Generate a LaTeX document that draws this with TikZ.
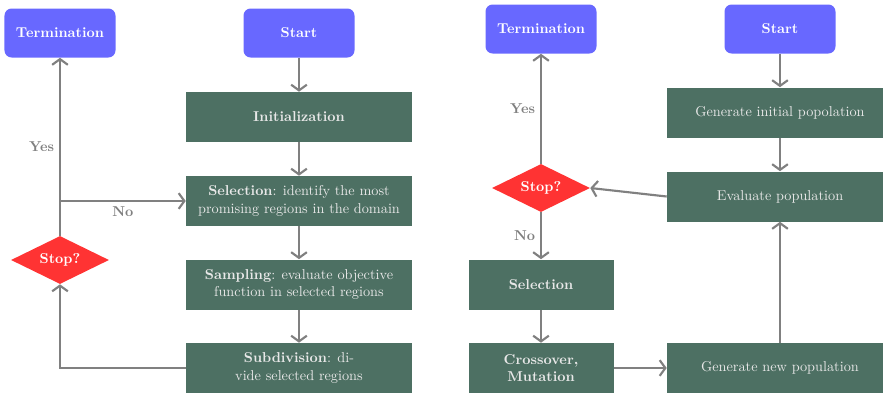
\documentclass[tikz,border=0pt]{standalone}
\usetikzlibrary{shapes.geometric,arrows.meta}
\definecolor{termblue}{HTML}{6868FF}
\definecolor{procgreen}{HTML}{4D7063}
\definecolor{stopred}{HTML}{FF3333}
\definecolor{linegray}{HTML}{808080}
\definecolor{boxtext}{HTML}{E8E8E8}
\tikzset{
  term/.style={draw=none, fill=termblue, rounded corners=5pt, minimum width=77.7pt, minimum height=34.3pt, text=white, font=\bfseries, inner sep=2pt},
  proc/.style={draw=none, fill=procgreen, minimum width=158.2pt, minimum height=35pt, text=boxtext, align=center, inner sep=2pt},
  procs/.style={proc, minimum width=101.5pt},
  decision/.style={diamond, aspect=2, draw=none, fill=stopred, minimum width=68.6pt, minimum height=33.6pt, text=white, font=\bfseries, inner sep=0pt},
  conn/.style={draw=linegray, line width=1.5pt, -{Straight Barb[length=4pt,width=11pt,line width=1.5pt]}},
  lbl/.style={text=linegray, font=\bfseries},
}
\begin{document}
\begin{tikzpicture}[x=0.7pt,y=-0.7pt]
\useasboundingbox (0,0) rectangle (883,394);
% left diagram
\node[term] (termL) at (60,33) {Termination};
\node[term] (startL) at (299,33) {Start};
\node[proc] (init) at (299,117) {\textbf{Initialization}};
\node[proc] (selL) at (299,201) {\textbf{Selection}: identify the most\\promising regions in the domain};
\node[proc] (samp) at (299,284.5) {\textbf{Sampling}: evaluate objective\\function in selected regions};
\node[proc] (subd) at (299,368) {\textbf{Subdivision}: di-\\vide selected regions};
\node[decision] (stopL) at (60,260) {Stop?};
\draw[conn] (startL) -- (init);
\draw[conn] (init) -- (selL);
\draw[conn] (selL) -- (samp);
\draw[conn] (samp) -- (subd);
\draw[conn] (stopL.north) -- node[lbl, left, pos=0.5] {Yes} (termL.south);
\draw[conn] (stopL.north |- selL.west) -- node[lbl, below] {No} (selL.west);
\draw[conn] (subd.west) -| (stopL.south);
% right diagram
\node[term] (termR) at (541,29) {Termination};
\node[term] (startR) at (780,29) {Start};
\node[proc] (geninit) at (780,112.5) {Generate initial popolation};
\node[proc] (eval) at (780,196.5) {Evaluate population};
\node[proc] (gennew) at (780,368) {Generate new population};
\node[decision] (stopR) at (541,188) {Stop?};
\node[procs] (selR) at (541,284.5) {\textbf{Selection}};
\node[procs] (cross) at (541,368) {\textbf{Crossover,}\\\textbf{Mutation}};
\draw[conn] (startR) -- (geninit);
\draw[conn] (geninit) -- (eval);
\draw[conn] (eval.west) -- (stopR.east);
\draw[conn] (stopR.north) -- node[lbl, left] {Yes} (termR.south);
\draw[conn] (stopR.south) -- node[lbl, left] {No} (selR.north);
\draw[conn] (selR) -- (cross);
\draw[conn] (cross) -- (gennew);
\draw[conn] (gennew) -- (eval);
\end{tikzpicture}
\end{document}
